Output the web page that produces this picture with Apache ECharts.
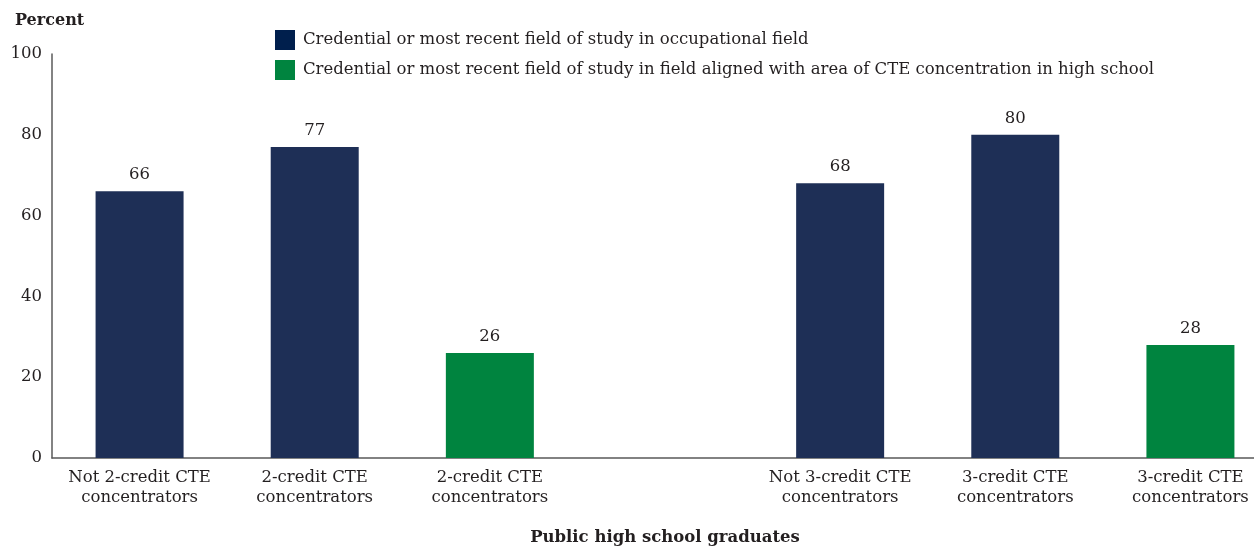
<!DOCTYPE html>
<html><head><meta charset="utf-8">
<script src="https://cdn.jsdelivr.net/npm/echarts@6/dist/echarts.min.js"></script>
<style>html,body{margin:0;padding:0;background:#fff}#c{width:1254px;height:548px}</style>
</head><body><div id="c"></div>
<script>
const categories = ['Not 2-credit CTE\nconcentrators','2-credit CTE\nconcentrators','2-credit CTE\nconcentrators','','Not 3-credit CTE\nconcentrators','3-credit CTE\nconcentrators','3-credit CTE\nconcentrators'];
const occupational = [66, 77, null, null, 68, 80, null];
const aligned = [null, null, 26, null, null, null, 28];
const seriesNames = ['Credential or most recent field of study in occupational field','Credential or most recent field of study in field aligned with area of CTE concentration in high school'];
const yTicks = [0, 20, 40, 60, 80, 100];

const font = "'DejaVu Serif', 'Liberation Serif', serif";
const fs = 16.5;
const chart = echarts.init(document.getElementById('c'));
chart.setOption({
  animation: false,
  textStyle: {fontFamily: font},
  title: {text: 'Percent', left: 10, top: 8, textStyle: {fontFamily: font, fontSize: 16, fontWeight: 'bold', color: '#231f20'}},
  legend: {
    orient: 'vertical', left: 270, top: 25, itemWidth: 20, itemHeight: 20, itemGap: 10,
    textStyle: {fontFamily: font, fontSize: fs, color: '#231f20', padding: [0,0,0,3]},
    data: [{name: seriesNames[0], icon: 'rect', itemStyle: {color: '#001f4d'}}, {name: seriesNames[1], icon: 'rect'}]
  },
  grid: {left: 52, right: -24, top: 54, bottom: 90, containLabel: false, outerBoundsMode: 'none'},
  xAxis: {
    type: 'category', data: categories,
    name: 'Public high school graduates', nameLocation: 'middle', nameGap: 71,
    nameTextStyle: {fontFamily: font, fontSize: fs, fontWeight: 'bold', color: '#231f20'},
    axisLine: {lineStyle: {color: '#5a5a5a', width: 1.5}}, axisTick: {show: false},
    axisLabel: {fontFamily: font, fontSize: fs, color: '#231f20', lineHeight: 20, margin: 10, interval: 0}
  },
  yAxis: {
    type: 'value', min: yTicks[0], max: yTicks[yTicks.length-1], interval: 20,
    axisLine: {show: true, lineStyle: {color: '#5a5a5a', width: 1.5}}, axisTick: {show: false}, splitLine: {show: false},
    axisLabel: {fontFamily: font, fontSize: fs, color: '#231f20', margin: 10}
  },
  series: [
    {name: seriesNames[0], type: 'bar', data: occupational, barWidth: 88, barGap: '-100%', itemStyle: {color: '#1e2f56'},
     label: {show: true, position: 'top', distance: 8, fontFamily: font, fontSize: fs, color: '#231f20'}},
    {name: seriesNames[1], type: 'bar', data: aligned, barWidth: 88, barGap: '-100%', itemStyle: {color: '#00843f'},
     label: {show: true, position: 'top', distance: 8, fontFamily: font, fontSize: fs, color: '#231f20'}}
  ]
});
</script></body></html>
